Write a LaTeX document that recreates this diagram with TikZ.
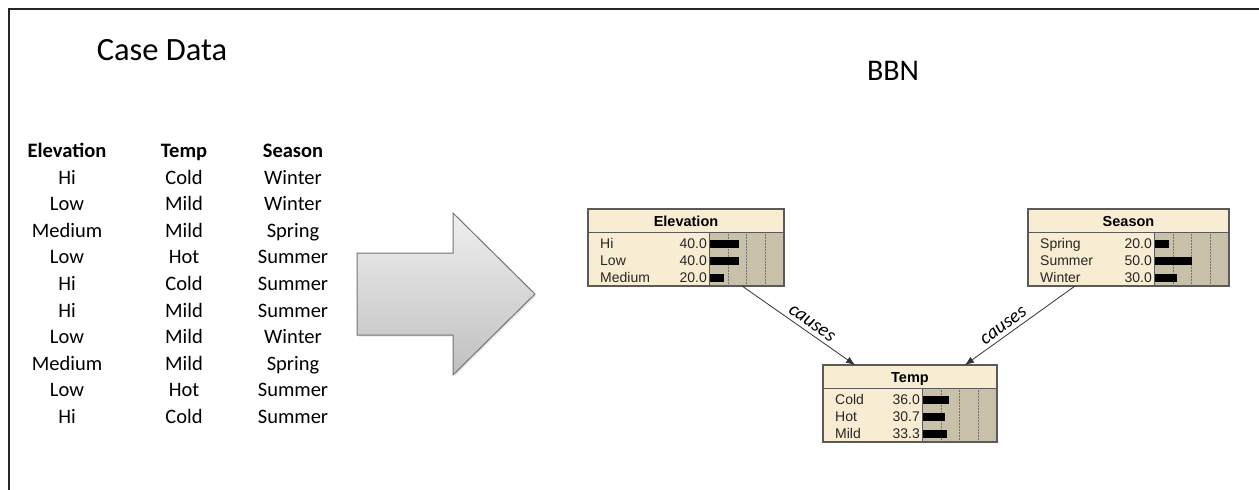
\documentclass[tikz,border=0pt]{standalone}
\usepackage{fontspec}
\setmainfont{Carlito}
\newfontfamily\netfont{Liberation Sans}
\usetikzlibrary{arrows.meta,calc,shadows}

\definecolor{cream}{HTML}{F8EDD2}
\definecolor{tanbar}{HTML}{C9C0AA}
\definecolor{boxedge}{HTML}{5A5A5A}
\definecolor{arrowtop}{HTML}{EFEFEF}
\definecolor{arrowbot}{HTML}{BFBFBF}
\definecolor{arrowedge}{HTML}{747474}

% one belief-network node: name, left, top, width, label width, title, rows
\newcommand\netbox[7]{%
  \pgfmathsetmacro\nL{#2}\pgfmathsetmacro\nT{#3}\pgfmathsetmacro\nR{#2+#4}%
  \pgfmathsetmacro\nS{#2+#5}\pgfmathsetmacro\nH{#3+23}\pgfmathsetmacro\nB{#3+77}%
  \fill[cream] (\nL,\nT) rectangle (\nR,\nB);
  \fill[tanbar] (\nS,\nH) rectangle (\nR,\nB);
  \foreach \q in {1,2,3} \draw[gridline] ({\nS+\q*18.75},\nH) -- ({\nS+\q*18.75},\nB);
  \foreach \lab/\val/\pct [count=\k] in {#7} {
    \pgfmathsetmacro\yb{\nH+16+(\k-1)*17}
    \node[statelabel] (#1-lab\k) at (\nL+12,\yb) {\lab};
    \node[stateval] (#1-val\k) at (\nS-2,\yb) {\val};
    \fill[black] (\nS,\yb-8.5) rectangle ++(\pct*0.75,8);
  }
  \node[boxframe, minimum width=#4, minimum height=77, anchor=north west] (#1) at (\nL,\nT) {};
  \draw[boxedge, line width=1pt] (\nL,\nH) -- (\nR,\nH);
  \draw[boxedge, line width=1pt] (\nS,\nH) -- (\nS,\nB);
  \node[titletext] (#1-title) at ({(\nL+\nR)/2},\nT+17) {#6};
}

\begin{document}
\begin{tikzpicture}[x=1pt,y=-1pt,
  frame/.style={line width=2pt, draw=black!85},
  heading/.style={font=\fontsize{30}{36}\selectfont, anchor=base, inner sep=0},
  casetext/.style={font=\fontsize{20.5}{24}\selectfont, anchor=base, inner sep=0},
  casehead/.style={font=\fontsize{20.5}{24}\selectfont\bfseries, anchor=base, inner sep=0},
  bigarrow/.style={draw=arrowedge, line width=1pt, top color=arrowtop, bottom color=arrowbot,
    drop shadow={opacity=0.2, shadow xshift=1.5pt, shadow yshift=-1.5pt}},
  gridline/.style={densely dotted, draw=black!55, line width=0.5pt},
  statelabel/.style={font=\netfont\fontsize{14}{16}\selectfont, anchor=base west, inner sep=0, text=black!85},
  stateval/.style={font=\netfont\fontsize{14}{16}\selectfont, anchor=base east, inner sep=0, text=black!85},
  titletext/.style={font=\netfont\bfseries\fontsize{14.5}{16}\selectfont, anchor=base, inner sep=0},
  boxframe/.style={draw=boxedge, line width=1.3pt, inner sep=0, outer sep=0},
  link/.style={draw=black!80, line width=0.8pt, -{Latex[length=9pt,width=7pt]}},
  causes/.style={font=\fontsize{19.5}{22}\selectfont\itshape, inner sep=1pt}
]
\useasboundingbox (0,0) rectangle (1259,490);

% page frame (top and left edges)
\draw[frame] (9,490) -- (9,8.5) -- (1259,8.5);

% headings
\node[heading, font=\fontsize{32.5}{38}\selectfont] (casedata) at (162,60) {Case Data};
\node[heading] (bbn) at (893,80) {BBN};

% case table
\node[casehead] (h1) at (67,157.5) {Elevation};
\node[casehead] (h2) at (184,157.5) {Temp};
\node[casehead] (h3) at (293,157.5) {Season};
\foreach \e/\t/\s [count=\r] in {Hi/Cold/Winter, Low/Mild/Winter, Medium/Mild/Spring,
    Low/Hot/Summer, Hi/Cold/Summer, Hi/Mild/Summer, Low/Mild/Winter,
    Medium/Mild/Spring, Low/Hot/Summer, Hi/Cold/Summer} {
  \pgfmathsetmacro\yy{157.5+\r*26.6}
  \node[casetext] (e\r) at (67,\yy) {\e};
  \node[casetext] (t\r) at (184,\yy) {\t};
  \node[casetext] (s\r) at (293,\yy) {\s};
}

% block arrow
\draw[bigarrow] (357,253) -- (453,253) -- (453,213) -- (535,294) -- (453,375)
  -- (453,335) -- (357,335) -- cycle;

% network nodes
\netbox{elev}{588}{209}{196}{121}{Elevation}{Hi/40.0/40, Low/40.0/40, Medium/20.0/20}
\netbox{season}{1028}{209}{201}{126}{Season}{Spring/20.0/20, Summer/50.0/50, Winter/30.0/30}
\netbox{temp}{823}{365}{174}{99}{Temp}{Cold/36.0/36, Hot/30.7/30.7, Mild/33.3/33.3}

% causal links
\draw[link] ($(elev.south west)!0.786!(elev.south east)$)
  -- node[causes, sloped, above=3pt, pos=0.57] (c1) {causes}
  ($(temp.north west)!0.184!(temp.north east)$);
\draw[link] ($(season.south west)!0.234!(season.south east)$)
  -- node[causes, sloped, above=3pt, pos=0.6] (c2) {causes}
  ($(temp.north west)!0.816!(temp.north east)$);
\end{tikzpicture}
\end{document}
